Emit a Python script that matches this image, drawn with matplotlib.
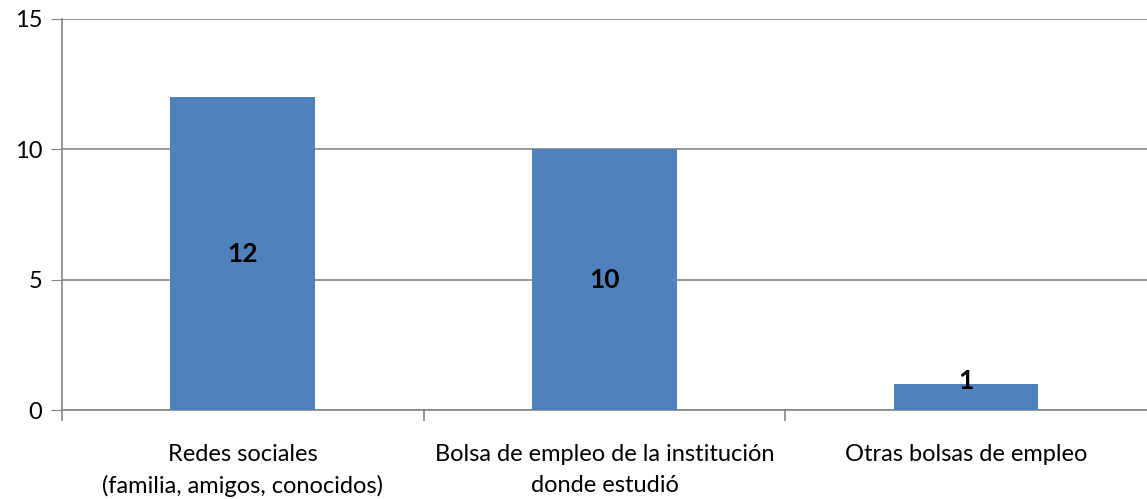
import numpy as np
import matplotlib.pyplot as plt

categories = ["Redes sociales\n(familia, amigos, conocidos)",
              "Bolsa de empleo de la institución\ndonde estudió",
              "Otras bolsas de empleo"]
values = [12, 10, 1]
yticks = [0, 5, 10, 15]

plt.rcParams['font.family'] = ['Lato', 'DejaVu Sans']

fig = plt.figure(figsize=(11.47, 4.99), dpi=100)
ax = fig.add_axes([0.054, 0.178, 0.946, 0.784])

x = np.arange(len(categories))
bars = ax.bar(x, values, width=0.4, color='#4F81BD', zorder=3)
for b, v in zip(bars, values):
    # short bars: keep the label from dropping below the axis like Excel does
    ax.text(b.get_x() + b.get_width() / 2, max(v / 2, 1.1), str(v), ha='center', va='center',
            fontsize=19, fontweight='bold', color='black', zorder=4)

ax.set_xlim(-0.5, 2.5)
ax.set_ylim(0, 15)
ax.set_yticks(yticks)
ax.tick_params(axis='y', labelsize=17, length=8, color='#868686', pad=6)
ax.yaxis.grid(True, color='#868686', linewidth=1.2, zorder=0)

ax.set_xticks(x)
ax.set_xticklabels(categories, fontsize=17, linespacing=1.6)
ax.tick_params(axis='x', length=0, pad=24)
ax.set_xticks([-0.5, 0.5, 1.5], minor=True)
ax.tick_params(axis='x', which='minor', length=8, color='#868686', width=1.2)

for s in ['top', 'right']:
    ax.spines[s].set_visible(False)
for s in ['left', 'bottom']:
    ax.spines[s].set_color('#868686')
    ax.spines[s].set_linewidth(1.2)

fig.savefig('out.png', dpi=100)
